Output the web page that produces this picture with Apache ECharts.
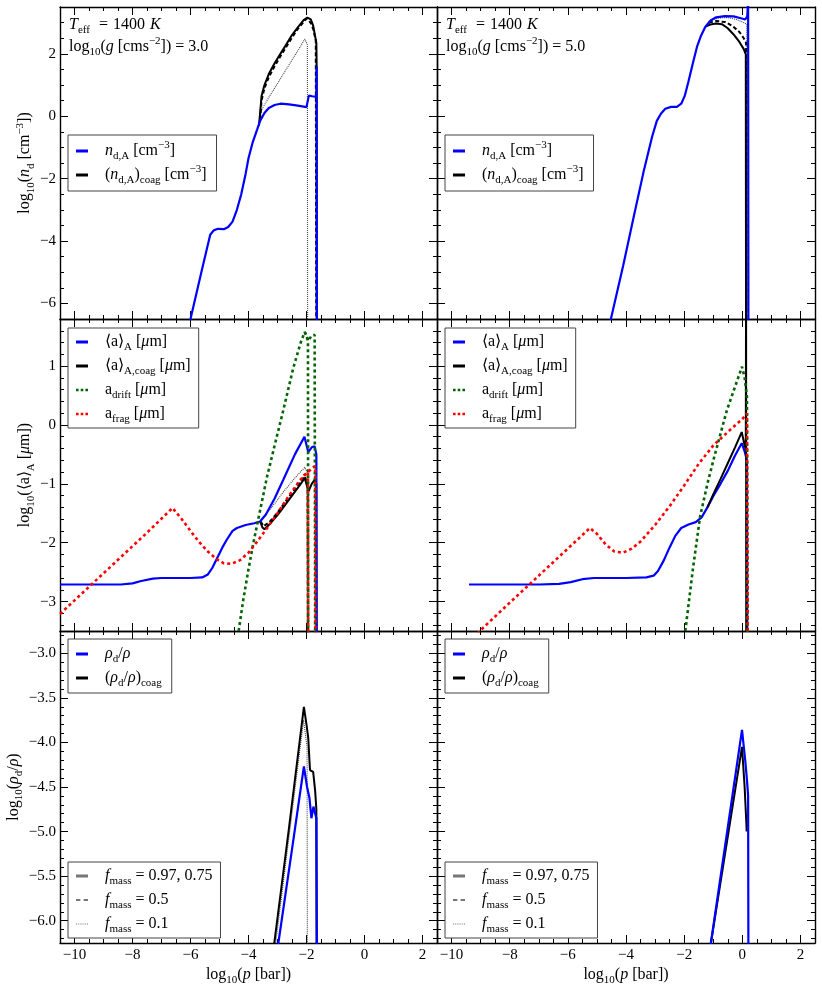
<!DOCTYPE html>
<html>
<head>
<meta charset="utf-8">
<script src="https://cdn.jsdelivr.net/npm/echarts@6/dist/echarts.min.js"></script>
<style>
  html, body { margin: 0; padding: 0; background: #fff; }
  #chart { width: 822px; height: 987px; }
</style>
</head>
<body>
<div id="chart"></div>
<script>
// ---- data: [log10 p, value] ----
// top row: log10 n_d
const ndA_g3 = [[-6.15,-7.0],[-6.0,-6.5],[-5.6,-4.9],[-5.32,-3.8],[-5.2,-3.66],[-5.05,-3.61],[-4.85,-3.62],[-4.7,-3.55],[-4.55,-3.38],[-4.4,-3.0],[-4.25,-2.5],[-4.1,-1.85],[-4.0,-1.35],[-3.85,-0.82],[-3.7,-0.42],[-3.6,-0.15],[-3.45,0.1],[-3.3,0.26],[-3.1,0.36],[-2.9,0.4],[-2.6,0.38],[-2.3,0.34],[-2.0,0.29],[-1.95,0.33],[-1.92,0.66],[-1.8,0.64],[-1.66,0.62],[-1.65,1.6],[-1.64,-8]];
const ndCoag_g3 = [[-3.64,-0.3],[-3.6,0.1],[-3.55,0.65],[-3.45,1.0],[-3.3,1.35],[-3.1,1.7],[-2.9,2.0],[-2.7,2.3],[-2.5,2.6],[-2.3,2.85],[-2.1,3.08],[-1.97,3.16],[-1.91,3.22],[-1.85,3.1],[-1.77,2.9],[-1.7,2.55],[-1.66,2.35],[-1.65,1.6],[-1.645,-8]];
const ndCoag05_g3 = [[-3.6,-0.1],[-3.55,0.5],[-3.45,0.9],[-3.3,1.25],[-3.1,1.6],[-2.9,1.92],[-2.7,2.22],[-2.5,2.52],[-2.3,2.8],[-2.1,3.02],[-2.0,3.13],[-1.93,3.08],[-1.85,2.98],[-1.77,2.8],[-1.68,2.42],[-1.66,-8]];
const ndCoag01_g3 = [[-3.6,-0.1],[-3.55,0.2],[-3.3,0.6],[-3.0,1.05],[-2.7,1.5],[-2.4,1.95],[-2.2,2.25],[-2.06,2.47],[-1.97,2.3],[-1.96,-8]];

const ndA_g5 = [[-4.6,-6.9],[-4.52,-6.5],[-4.1,-4.8],[-3.74,-3.25],[-3.4,-1.8],[-3.1,-0.65],[-2.94,-0.15],[-2.8,0.08],[-2.65,0.24],[-2.45,0.3],[-2.25,0.3],[-2.1,0.4],[-1.98,0.65],[-1.85,1.12],[-1.7,1.7],[-1.56,2.22],[-1.42,2.58],[-1.28,2.85],[-1.1,3.06],[-0.9,3.17],[-0.6,3.21],[-0.3,3.2],[-0.05,3.14],[0.1,3.1],[0.17,3.2],[0.2,3.7],[0.21,-8]];
const ndCoag_g5 = [[-1.25,2.88],[-1.1,2.94],[-0.9,2.97],[-0.7,2.95],[-0.5,2.82],[-0.3,2.62],[-0.1,2.38],[0.05,2.15],[0.12,1.98],[0.13,-8]];
const ndCoag05_g5 = [[-1.15,3.0],[-0.9,3.05],[-0.6,3.02],[-0.35,2.9],[-0.1,2.7],[0.05,2.5],[0.13,2.35],[0.14,-8]];
const ndCoag01_g5 = [[-1.1,3.08],[-0.8,3.15],[-0.5,3.16],[-0.2,3.1],[0.05,3.0],[0.15,2.95],[0.16,-8]];

// middle row: log10 <a>
const aA_g3 = [[-10.5,-2.71],[-8.4,-2.71],[-8.0,-2.69],[-7.7,-2.65],[-7.3,-2.61],[-7.0,-2.6],[-6.0,-2.6],[-5.6,-2.59],[-5.4,-2.54],[-5.25,-2.43],[-5.1,-2.28],[-4.9,-2.08],[-4.75,-1.95],[-4.55,-1.8],[-4.4,-1.75],[-4.1,-1.7],[-3.8,-1.67],[-3.6,-1.64],[-3.4,-1.52],[-3.1,-1.25],[-2.8,-0.93],[-2.4,-0.5],[-2.07,-0.2],[-1.94,-0.46],[-1.82,-0.38],[-1.72,-0.36],[-1.66,-0.5],[-1.65,-4]];
const aCoag_g3 = [[-3.6,-1.64],[-3.52,-1.74],[-3.45,-1.77],[-3.3,-1.7],[-3.0,-1.53],[-2.8,-1.4],[-2.5,-1.2],[-2.2,-1.0],[-2.06,-0.9],[-1.93,-1.13],[-1.82,-1.0],[-1.72,-0.93],[-1.66,-1.0],[-1.65,-4]];
const aCoag05_g3 = [[-3.58,-1.64],[-3.48,-1.72],[-3.3,-1.66],[-3.0,-1.49],[-2.6,-1.22],[-2.3,-1.02],[-2.06,-0.87],[-1.96,-1.02],[-1.95,-4]];
const aCoag01_g3 = [[-3.58,-1.62],[-3.2,-1.4],[-2.8,-1.14],[-2.4,-0.9],[-2.06,-0.72],[-1.98,-0.8],[-1.97,-4]];
const aDrift_g3 = [[-4.4,-3.7],[-4.18,-2.97],[-4.0,-2.45],[-3.83,-2.0],[-3.6,-1.45],[-3.37,-0.9],[-3.1,-0.35],[-2.8,0.25],[-2.46,0.96],[-2.2,1.4],[-2.06,1.58],[-1.94,1.43],[-1.82,1.52],[-1.72,1.53],[-1.7,-4]];
const aDrift01_g3 = [[-2.06,1.58],[-1.95,1.44],[-1.94,-4]];
const aFrag_g3 = [[-10.5,-3.21],[-9.5,-2.75],[-8.5,-2.29],[-7.5,-1.83],[-6.62,-1.41],[-6.3,-1.6],[-6.0,-1.8],[-5.7,-1.99],[-5.4,-2.15],[-5.1,-2.28],[-4.85,-2.35],[-4.6,-2.36],[-4.3,-2.3],[-4.0,-2.17],[-3.7,-1.98],[-3.37,-1.76],[-3.0,-1.5],[-2.6,-1.2],[-2.23,-0.94],[-2.0,-0.82],[-1.77,-0.72],[-1.7,-0.7],[-1.69,-4]];
const aFrag01_g3 = [[-2.1,-0.86],[-1.95,-0.8],[-1.94,-4]];

const aA_g5 = [[-9.4,-2.71],[-7.0,-2.71],[-6.3,-2.7],[-5.9,-2.67],[-5.5,-2.62],[-5.1,-2.6],[-4.0,-2.6],[-3.3,-2.59],[-3.05,-2.56],[-2.9,-2.48],[-2.7,-2.3],[-2.5,-2.08],[-2.3,-1.88],[-2.1,-1.75],[-1.85,-1.69],[-1.6,-1.65],[-1.4,-1.57],[-1.2,-1.4],[-1.0,-1.21],[-0.75,-1.0],[-0.5,-0.78],[-0.25,-0.52],[-0.02,-0.31],[0.08,-0.45],[0.16,-0.6],[0.17,-4]];
const aCoag_g5 = [[-1.2,-1.4],[-1.0,-1.18],[-0.75,-0.92],[-0.5,-0.65],[-0.25,-0.38],[-0.02,-0.12],[0.08,-0.35],[0.12,-0.4],[0.13,2.5],[0.135,-4]];
const aDrift_g5 = [[-2.0,-3.6],[-1.96,-3.5],[-1.7,-2.45],[-1.45,-1.55],[-1.2,-1.0],[-0.99,-0.59],[-0.75,-0.15],[-0.53,0.25],[-0.25,0.65],[-0.01,0.99],[0.08,0.8],[0.16,0.48],[0.18,-4]];
const aFrag_g5 = [[-9.1,-3.55],[-9.03,-3.5],[-8.0,-3.02],[-7.0,-2.56],[-6.0,-2.1],[-5.24,-1.75],[-5.0,-1.85],[-4.7,-2.03],[-4.4,-2.15],[-4.1,-2.17],[-3.8,-2.1],[-3.5,-1.98],[-3.0,-1.7],[-2.5,-1.38],[-2.0,-1.03],[-1.5,-0.66],[-1.0,-0.35],[-0.5,-0.12],[0.0,0.1],[0.16,0.2],[0.19,-4]];

// bottom row: log10 rho_d/rho
const rho_g3 = [[-3.02,-6.4],[-2.97,-6.25],[-2.5,-5.2],[-2.09,-4.27],[-1.98,-4.5],[-1.9,-4.62],[-1.83,-4.85],[-1.76,-4.72],[-1.71,-4.7],[-1.66,-4.85],[-1.64,-6.5]];
const rhoCoag_g3 = [[-3.16,-6.4],[-3.11,-6.25],[-2.6,-4.95],[-2.09,-3.6],[-2.0,-3.8],[-1.94,-3.95],[-1.88,-4.31],[-1.83,-4.3],[-1.77,-4.33],[-1.7,-4.55],[-1.66,-4.75],[-1.65,-6.5]];
const rhoCoag01_g3 = [[-3.08,-6.3],[-2.1,-3.75],[-1.98,-4.05],[-1.97,-6.5]];

const rho_g5 = [[-1.12,-6.35],[-1.08,-6.25],[-0.01,-3.86],[0.1,-4.2],[0.16,-4.42],[0.2,-4.6],[0.21,-6.5]];
const rhoCoag_g5 = [[-1.12,-6.35],[-1.08,-6.25],[-0.01,-4.05],[0.08,-4.5],[0.14,-4.91],[0.15,-5.0]];

const xRange = [-10.5, 2.5];
const yRanges = [[-6.5, 3.5], [-3.5, 1.8], [-6.25, -2.75]];
const gravity = ['3.0', '5.0'];

// ---- styling ----
const FONT = 'Liberation Serif';
const BLUE = '#0000ff', GREEN = '#006400', RED = '#ff0000', GRAY = '#777777';

const RICH = {
  i:   { fontFamily: FONT, fontStyle: 'italic', fontSize: 16, lineHeight: 22, color: '#000' },
  sub: { fontFamily: FONT, fontSize: 11, lineHeight: 12, verticalAlign: 'bottom', color: '#000' },
  sup: { fontFamily: FONT, fontSize: 11, lineHeight: 12, verticalAlign: 'top', color: '#000' },
  g:   { width: 12 },
  w9:  { width: 9 },
  w5:  { width: 5 }
};

const LEGEND_TEXT = {
  nA: '{i|n}{sub|d,A} [cm{sup|−3}]',
  nCoag: '({i|n}{sub|d,A}){sub|coag} [cm{sup|−3}]',
  aA: '⟨a⟩{sub|A} [{i|μ}m]',
  aCoag: '⟨a⟩{sub|A,coag} [{i|μ}m]',
  aDrift: 'a{sub|drift} [{i|μ}m]',
  aFrag: 'a{sub|frag} [{i|μ}m]',
  rho: '{i|ρ}{sub|d}/{i|ρ}',
  rhoCoag: '({i|ρ}{sub|d}/{i|ρ}){sub|coag}',
  f1: '{i|f}{sub|mass} = 0.97, 0.75',
  f2: '{i|f}{sub|mass} = 0.5',
  f3: '{i|f}{sub|mass} = 0.1'
};

// legend glyphs: solid bar, dashes, square dots, fine dots
const ICON_SOLID = 'rect';
const ICON_DASH = 'path://M0,0h4v2h-4z M7,0h4v2h-4z';
const ICON_SQDOT = 'path://M0,0h2.5v2.5h-2.5z M4.5,0h2.5v2.5h-2.5z M9,0h2.5v2.5h-2.5z';
const ICON_DOT = 'path://M0,0h1v1h-1z M2,0h1v1h-1z M4,0h1v1h-1z M6,0h1v1h-1z M8,0h1v1h-1z M10,0h1v1h-1z';

const Y_NAMES = [
  'log{sub|10}({i|n}{sub|d} [cm{sup|−3}])',
  'log{sub|10}(⟨a⟩{sub|A} [{i|μ}m])',
  'log{sub|10}({i|ρ}{sub|d}/{i|ρ})'
];

const minus = s => String(s).replace('-', '−');

const grids = [], xAxes = [], yAxes = [];
const TICK = { color: '#000', width: 1 };
const LINE = { show: true, onZero: false, lineStyle: { color: '#000', width: 1.4 } };

for (let gi = 0; gi < 6; gi++) {
  const row = Math.floor(gi / 2), col = gi % 2;
  grids.push({ left: col ? 437 : 60, top: 7 + row * 312, width: col ? 378 : 377, height: 312,
               containLabel: false, outerBoundsMode: 'none' });

  const xBase = {
    type: 'value', gridIndex: gi, min: xRange[0], max: xRange[1], splitNumber: 6,
    splitLine: { show: false }, axisLine: LINE,
    axisTick: { show: true, inside: true, length: 8, lineStyle: TICK },
    minorTick: { show: true, splitNumber: 4, length: 4, lineStyle: TICK }
  };
  xAxes.push(Object.assign({}, xBase, {
    position: 'bottom',
    axisLabel: { show: row === 2, margin: 5, fontFamily: FONT, fontSize: 15, color: '#000',
                 showMinLabel: false, showMaxLabel: false, formatter: v => minus(v) },
    name: row === 2 ? 'log{sub|10}({i|p} [bar])' : '',
    nameLocation: 'middle', nameGap: 15,
    nameTextStyle: { fontFamily: FONT, fontSize: 16, color: '#000', lineHeight: 22, rich: RICH }
  }));
  xAxes.push(Object.assign({}, xBase, { position: 'top', axisLabel: { show: false } }));

  const yr = yRanges[row];
  const yBase = {
    type: 'value', gridIndex: gi, min: yr[0], max: yr[1],
    splitNumber: [5, 5, 7][row],
    splitLine: { show: false }, axisLine: LINE,
    axisTick: { show: true, inside: true, length: 8, lineStyle: TICK },
    minorTick: { show: true, splitNumber: [4, 5, 5][row], length: 4, lineStyle: TICK }
  };
  yAxes.push(Object.assign({}, yBase, {
    position: 'left',
    axisLabel: { show: col === 0, margin: 4, fontFamily: FONT, fontSize: 15, color: '#000',
                 showMinLabel: false, showMaxLabel: false,
                 formatter: v => minus(row === 2 ? v.toFixed(1) : Math.round(v)) },
    name: col === 0 ? Y_NAMES[row] : '',
    nameLocation: 'middle', nameRotate: 90, nameGap: row === 2 ? 35 : 23,
    nameTextStyle: { fontFamily: FONT, fontSize: 16, color: '#000', lineHeight: 22, rich: RICH }
  }));
  yAxes.push(Object.assign({}, yBase, { position: 'right', axisLabel: { show: false } }));
}

const series = [];
function add(gi, name, data, color, width, type) {
  series.push({
    type: 'line', name: name, xAxisIndex: gi * 2, yAxisIndex: gi * 2, data: data,
    symbol: 'none', showSymbol: false, clip: true, animation: false,
    lineStyle: { color: color, width: width, type: type || 'solid', cap: 'butt' },
    itemStyle: { color: color }
  });
}
const DOT = [1, 1], DASH = [4, 2.5], COARSE_DOT = [3, 3];

// top row
add(0, 'nCoag01', ndCoag01_g3, '#444', 1.1, DOT);
add(0, 'nCoag05', ndCoag05_g3, '#000', 2, DASH);
add(0, 'nCoag', ndCoag_g3, '#000', 2);
add(0, 'nA', ndA_g3, BLUE, 2.2);
add(1, 'nCoag01', ndCoag01_g5, '#444', 1.1, DOT);
add(1, 'nCoag05', ndCoag05_g5, '#000', 2, DASH);
add(1, 'nCoag', ndCoag_g5, '#000', 2);
add(1, 'nA', ndA_g5, BLUE, 2.2);
// middle row
add(2, 'aCoag01', aCoag01_g3, '#444', 1.1, DOT);
add(2, 'aCoag05', aCoag05_g3, '#000', 2, DASH);
add(2, 'aCoag', aCoag_g3, '#000', 2);
add(2, 'aA', aA_g3, BLUE, 2.2);
add(2, 'aDrift', aDrift_g3, GREEN, 2.6, COARSE_DOT);
add(2, 'aDrift01', aDrift01_g3, GREEN, 2.6, COARSE_DOT);
add(2, 'aFrag', aFrag_g3, RED, 2.6, COARSE_DOT);
add(2, 'aFrag01', aFrag01_g3, RED, 2.6, COARSE_DOT);
add(3, 'aA', aA_g5, BLUE, 2.2);
add(3, 'aCoag', aCoag_g5, '#000', 2);
add(3, 'aDrift', aDrift_g5, GREEN, 2.6, COARSE_DOT);
add(3, 'aFrag', aFrag_g5, RED, 2.6, COARSE_DOT);
// bottom row
add(4, 'rhoCoag01', rhoCoag01_g3, '#444', 1.1, DOT);
add(4, 'rhoCoag', rhoCoag_g3, '#000', 2);
add(4, 'rho', rho_g3, BLUE, 2.2);
add(5, 'rhoCoag', rhoCoag_g5, '#000', 2);
add(5, 'rho', rho_g5, BLUE, 2.2);
// legend-only f_mass entries
add(4, 'f1', [], GRAY, 2);
add(4, 'f2', [], GRAY, 2, [3, 2]);
add(4, 'f3', [], GRAY, 1, [1, 1]);

function legend(left, top, items, pad) {
  return {
    show: true, orient: 'vertical', left: left, top: top, selectedMode: false,
    data: items.map(it => ({ name: it[0], icon: it[1] })),
    backgroundColor: '#fff', borderColor: '#444', borderWidth: 1, borderRadius: 0,
    padding: pad, itemGap: 2, itemWidth: 12, itemHeight: 3,
    textStyle: { fontFamily: FONT, fontSize: 16, color: '#000', lineHeight: 22, rich: RICH },
    formatter: n => '{g|}' + LEGEND_TEXT[n]
  };
}
const legends = [];
[68, 445].forEach(l => {
  legends.push(legend(l, 135, [['nA', ICON_SOLID], ['nCoag', ICON_SOLID]], [5, 10, 5, 8]));
  legends.push(legend(l, 328, [['aA', ICON_SOLID], ['aCoag', ICON_SOLID], ['aDrift', ICON_SQDOT], ['aFrag', ICON_SQDOT]], [3, 8, 3, 8]));
  legends.push(legend(l, 639, [['rho', ICON_SOLID], ['rhoCoag', ICON_SOLID]], [4, 10, 4, 8]));
  legends.push(legend(l, 862, [['f1', ICON_SOLID], ['f2', ICON_DASH], ['f3', ICON_DOT]], [3, 8, 3, 8]));
});

const titles = [0, 1].map(col => ({
  left: col ? 446 : 69, top: 14, padding: 0,
  text: '{i|T}{sub|eff}{w9|}={w5|}1400{w5|}{i|K}\nlog{sub|10}({i|g} [cms{sup|−2}]) = ' + gravity[col],
  textStyle: { fontFamily: FONT, fontSize: 16, fontWeight: 'normal', color: '#000', lineHeight: 22, rich: RICH }
}));

const chart = echarts.init(document.getElementById('chart'));
chart.setOption({
  animation: false,
  backgroundColor: '#fff',
  title: titles,
  grid: grids,
  xAxis: xAxes,
  yAxis: yAxes,
  legend: legends,
  series: series
});
</script>
</body>
</html>
